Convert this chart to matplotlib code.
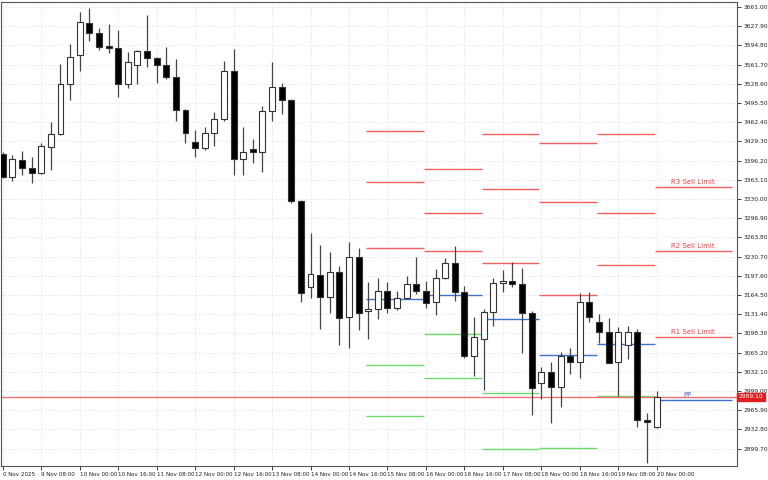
import matplotlib
matplotlib.use("Agg")
import matplotlib.pyplot as plt
from matplotlib.patches import Rectangle

opens  = [3408,3368,3397,3383,3375,3420,3442,3528,3578,3633,3616,3594,3590,3528,3561,3585,3573,3561,3540,3483,
          3428,3418,3444,3468,3551,3399,3416,3411,3482,3523,3501,3327,3178,3199,3161,3204,3127,3230,3137,3140,
          3171,3142,3159,3183,3171,3152,3194,3220,3170,3059,3089,3135,3185,3189,3183,3133,3013,3032,3006,3059,
          3049,3152,3118,3101,3049,3078,3101,2949,2937]
highs  = [3411,3406,3413,3402,3427,3463,3563,3597,3652,3659,3625,3632,3621,3583,3587,3647,3575,3592,3571,3485,
          3449,3454,3480,3568,3589,3454,3433,3490,3566,3530,3502,3328,3271,3251,3239,3214,3256,3245,3187,3194,
          3187,3171,3197,3230,3189,3209,3228,3249,3180,3127,3140,3194,3208,3221,3211,3137,3040,3049,3066,3073,
          3168,3170,3132,3125,3109,3111,3106,2961,2999]
lows   = [3366,3361,3371,3358,3373,3380,3440,3501,3551,3602,3587,3582,3506,3521,3528,3558,3530,3537,3464,3427,
          3402,3414,3421,3464,3371,3371,3392,3377,3464,3477,3323,3152,3159,3106,3133,3078,3073,3104,3089,3123,
          3133,3139,3157,3166,3142,3130,3192,3154,3056,3025,3001,3111,3170,3178,3064,2958,2985,2944,2971,3028,
          3021,3118,3082,3047,2990,3054,2937,2875,2936]
closes = [3368,3399,3383,3375,3421,3442,3528,3575,3635,3616,3592,3590,3528,3566,3585,3573,3561,3540,3483,3444,
          3418,3444,3468,3551,3399,3411,3411,3482,3523,3501,3327,3168,3201,3161,3204,3125,3230,3133,3140,3171,
          3142,3159,3183,3171,3151,3194,3220,3170,3059,3092,3135,3185,3189,3183,3133,3004,3032,3006,3059,3049,
          3152,3127,3101,3047,3101,3101,2949,2946,2989.1]

x_labels = ["0 Nov 2025","9 Nov 08:00","10 Nov 00:00","10 Nov 16:00","11 Nov 08:00","12 Nov 00:00",
            "12 Nov 16:00","13 Nov 08:00","14 Nov 00:00","14 Nov 16:00","15 Nov 08:00","16 Nov 00:00",
            "16 Nov 16:00","17 Nov 08:00","18 Nov 00:00","18 Nov 16:00","19 Nov 08:00","20 Nov 00:00"]
y_ticks = [3661.00,3627.90,3594.80,3561.70,3528.60,3495.50,3462.40,3429.30,3396.20,3363.10,3330.00,3296.90,
           3263.80,3230.70,3197.60,3164.50,3131.40,3098.30,3065.20,3032.10,2999.00,2965.90,2932.80,2899.70]

seg_start = [38, 44, 50, 56, 62, 68]
seg_end   = [44, 50, 56, 62, 68, 76]
r3 = [3447.2, 3381.7, 3442.1, 3426.5, 3442.1, 3350.7]
r2 = [3359.3, 3305.9, 3347.2, 3324.8, 3305.9, 3240.3]
r1 = [3245.5, 3240.3, 3219.7, 3164.5, 3216.2, 3092.1]
pp = [3157.6, 3164.5, 3123.1, 3061.1, 3080.0, 2983.5]
s1 = [3043.8, 3097.3, 2995.5, None, 2990.4, None]
s2 = [2955.9, 3021.4, 2899.0, 2900.7, None, None]
current_price = 2989.10

fig = plt.figure(figsize=(7.68, 4.8), dpi=100)
ax = fig.add_axes([0.001, 0.029, 0.958, 0.967])
ax.set_xlim(-0.21, 76.3)
ax.set_ylim(2869.7, 3669.6)

ax.set_yticks(y_ticks)
ax.set_xticks(range(0, 4 * len(x_labels), 4))
ax.grid(True, color="#e4e4e4", linestyle=(0, (2, 2)), linewidth=0.6)
ax.set_axisbelow(True)

w = 0.62
for i, (o, h, l, c) in enumerate(zip(opens, highs, lows, closes)):
    ax.vlines(i, l, h, color="#444444", linewidth=0.9, zorder=3)
    bottom, top = min(o, c), max(o, c)
    fc = "white" if c >= o else "black"
    ax.add_patch(Rectangle((i - w / 2, bottom), w, max(top - bottom, 1.2),
                           facecolor=fc, edgecolor="#333333", linewidth=0.8, zorder=4))

def seg(levels, color):
    for a, b, v in zip(seg_start, seg_end, levels):
        if v is not None:
            ax.hlines(v, a - 0.2, b - 0.2, color=color, linewidth=1.0, zorder=2)

seg(r3, "#f06060"); seg(r2, "#f06060"); seg(r1, "#f06060")
seg(pp, "#4070d0"); seg(s1, "#70d870"); seg(s2, "#70d870")

ax.axhline(current_price, color="#f07070", linewidth=1.0, zorder=2)

for name, v in [("R3 Sell Limit", r3[-1]), ("R2 Sell Limit", r2[-1]), ("R1 Sell Limit", r1[-1])]:
    ax.text(74.0, v + 3, name, color="#f04040", fontsize=5, ha="right", va="bottom")
ax.text(71.2, pp[-1] + 3, "PP", color="#4060d0", fontsize=5, ha="center", va="bottom")

ax.yaxis.tick_right()
ax.tick_params(axis="y", labelsize=4.3, length=3, width=0.6, pad=2, colors="#222222")
ax.set_yticklabels([f"{v:.2f}" for v in y_ticks])
ax.tick_params(axis="x", labelsize=4.1, length=3, width=0.6, pad=1, colors="#222222")
ax.set_xticklabels(x_labels, ha="left")
for sp in ax.spines.values():
    sp.set_color("#555555"); sp.set_linewidth(0.8)

ax.text(1.003, current_price, f"{current_price:.2f}", transform=ax.get_yaxis_transform(),
        fontsize=4.3, color="white", va="center", ha="left",
        bbox=dict(boxstyle="square,pad=0.25", facecolor="#e02020", edgecolor="#e02020"))

fig.savefig("out.png", dpi=100)
